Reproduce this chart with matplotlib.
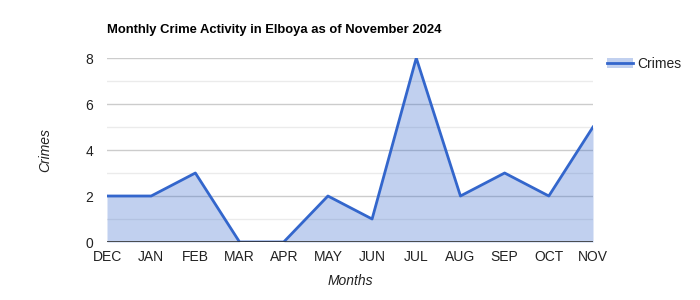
import matplotlib
matplotlib.use("Agg")
import matplotlib.pyplot as plt
from matplotlib.patches import Patch
from matplotlib.lines import Line2D

months = ["DEC", "JAN", "FEB", "MAR", "APR", "MAY", "JUN", "JUL", "AUG", "SEP", "OCT", "NOV"]
crimes = [2, 2, 3, 0, 0, 2, 1, 8, 2, 3, 2, 5]
y_ticks = [0, 2, 4, 6, 8]

plt.rcParams["font.family"] = ["Liberation Sans", "DejaVu Sans"]

LINE = "#3366CC"
fig = plt.figure(figsize=(7, 3), dpi=100)
ax = fig.add_axes([107 / 700, 58 / 300, 486 / 700, 184 / 300])

x = list(range(len(months)))
# minor / major gridlines
for v in [1, 3, 5, 7]:
    ax.axhline(v, color="#EBEBEB", linewidth=1, zorder=0)
for v in [2, 4, 6, 8]:
    ax.axhline(v, color="#CCCCCC", linewidth=1, zorder=0)

ax.fill_between(x, crimes, 0, color=LINE, alpha=0.3, linewidth=0, zorder=1)
ax.plot(x, crimes, color=LINE, linewidth=2, zorder=3)
ax.axhline(0, color="#333333", linewidth=1.2, zorder=4)

ax.set_xlim(0, len(months) - 1)
ax.set_ylim(0, 8)
ax.set_xticks(x)
ax.set_xticklabels(months)
ax.set_yticks(y_ticks)
ax.tick_params(axis="both", length=0, labelsize=10, labelcolor="#222222")
ax.tick_params(axis="x", pad=6)
ax.tick_params(axis="y", pad=10)
for s in ax.spines.values():
    s.set_visible(False)

fig.text(107 / 700, 1 - 30 / 300, "Monthly Crime Activity in Elboya as of November 2024",
         fontsize=9.4, fontweight="bold", ha="left", va="center", color="#000000")
fig.text(45 / 700, 1 - 150 / 300, "Crimes", rotation=90, style="italic",
         fontsize=10, ha="center", va="center", color="#222222")
fig.text(350 / 700, 1 - 281 / 300, "Months", style="italic",
         fontsize=10, ha="center", va="center", color="#222222")

# legend
handle = (Patch(facecolor=LINE, alpha=0.3, edgecolor="none"),
          Line2D([], [], color=LINE, linewidth=2))
leg = fig.legend([handle], ["Crimes"], loc="center left",
                 bbox_to_anchor=(594 / 700, 1 - 64 / 300), frameon=False,
                 fontsize=10, handlelength=1.9, handletextpad=0.35)
for t in leg.get_texts():
    t.set_color("#222222")

fig.savefig("out.png", dpi=100)
